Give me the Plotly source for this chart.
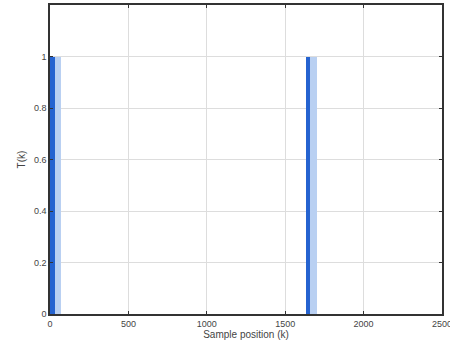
import plotly.graph_objects as go

# intervals of samples where T(k)=1
dark_start = [0, 1635]
dark_end = [35, 1660]
light_start = [35, 1660]
light_end = [70, 1700]
t_value = [1, 1]

x_ticks = [0, 500, 1000, 1500, 2000, 2500]
y_ticks = [0, 0.2, 0.4, 0.6, 0.8, 1]

fig = go.Figure()
fig.add_trace(go.Bar(
    x=[(a + b) / 2 for a, b in zip(light_start, light_end)],
    y=t_value,
    width=[b - a for a, b in zip(light_start, light_end)],
    marker=dict(color="#b9d0f2", line=dict(width=0)),
    hoverinfo="skip",
))
fig.add_trace(go.Bar(
    x=[(a + b) / 2 for a, b in zip(dark_start, dark_end)],
    y=t_value,
    width=[b - a for a, b in zip(dark_start, dark_end)],
    marker=dict(color="#2563d0", line=dict(width=0)),
    hoverinfo="skip",
))

axis_common = dict(
    showline=True, linecolor="#333333", linewidth=1.5, mirror="ticks",
    ticks="inside", ticklen=3, tickcolor="#333333",
    showgrid=True, gridcolor="#dddddd", gridwidth=1,
    zeroline=False, ticklabeloverflow="allow", automargin=False,
    tickfont=dict(family="Liberation Sans, Arial", size=9, color="#444444"),
)

fig.update_layout(
    width=450, height=349,
    margin=dict(l=50, r=8, t=5, b=35),
    paper_bgcolor="white", plot_bgcolor="white",
    showlegend=False, barmode="overlay", bargap=0,
    xaxis=dict(range=[0, 2500], tickvals=x_ticks, ticktext=[str(v) for v in x_ticks],
               title=dict(text="Sample position (k)", standoff=2,
                          font=dict(family="Liberation Sans, Arial", size=10, color="#444444")),
               **axis_common),
    yaxis=dict(range=[0, 1.2], tickvals=y_ticks, ticktext=["0", "0.2", "0.4", "0.6", "0.8", "1"],
               title=dict(text="T(k)", standoff=6,
                          font=dict(family="Liberation Sans, Arial", size=10, color="#444444")),
               **axis_common),
)

fig.write_html("out.html")
